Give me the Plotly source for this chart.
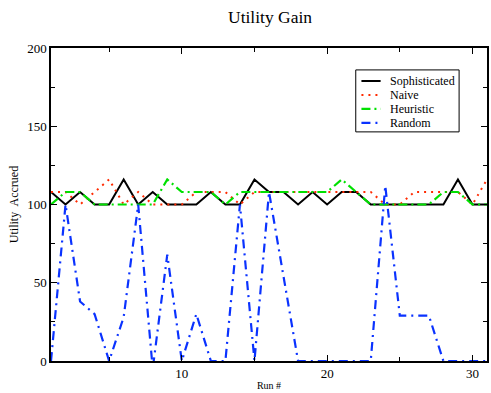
import plotly.graph_objects as go

runs = list(range(1, 32))
sophisticated = [108, 100, 108, 100, 100, 116, 100, 108, 100, 100, 100, 108, 100, 100, 116, 108,
                 108, 100, 108, 100, 108, 108, 100, 100, 100, 100, 100, 100, 116, 100, 100]
naive = [108, 108, 100, 108, 116, 100, 108, 100, 100, 100, 108, 108, 108, 100, 108, 108,
         108, 108, 108, 108, 108, 108, 108, 100, 100, 108, 108, 108, 108, 100, 116]
heuristic = [100, 108, 108, 100, 100, 100, 100, 100, 116, 108, 108, 108, 100, 108, 108, 108,
             108, 108, 108, 108, 116, 108, 100, 100, 100, 100, 100, 108, 108, 100, 100]
random_ = [0, 100, 38, 30, 0, 28, 100, -5, 68, 0, 30, 0, 0, 100, 0, 108,
           54, 0, 0, 0, 0, 0, 0, 112, 29, 29, 29, 0, 0, 0, 0]

series_names = ["Sophisticated", "Naive", "Heuristic", "Random"]
series_values = [sophisticated, naive, heuristic, random_]
series_styles = [
    dict(color="black", width=2),
    dict(color="#ff2a00", width=2, dash="2px,5px"),
    dict(color="#00e000", width=2.2, dash="9px,4px,2px,4px"),
    dict(color="#0a32ff", width=2.2, dash="9px,5px,2px,5px"),
]

FONT = "Liberation Serif"

fig = go.Figure()
for name, vals, style in zip(series_names, series_values, series_styles):
    fig.add_trace(go.Scatter(x=runs, y=vals, mode="lines", name=name, line=style,
                             showlegend=False))

# compact boxed legend (paper coordinates of the plot area)
leg_x0, leg_x1, leg_y0, leg_y1 = 0.699, 0.936, 0.732, 0.930
row_top, row_step = 0.8946, 0.0447
shapes = [dict(type="rect", xref="paper", yref="paper", x0=leg_x0, x1=leg_x1,
               y0=leg_y0, y1=leg_y1, line=dict(color="black", width=1),
               fillcolor="white", layer="above")]
annotations = []
for i, (name, style) in enumerate(zip(series_names, series_styles)):
    yy = row_top - i * row_step
    shapes.append(dict(type="line", xref="paper", yref="paper", x0=0.712, x1=0.756,
                       y0=yy, y1=yy, line=style, layer="above"))
    annotations.append(dict(xref="paper", yref="paper", x=0.772, y=yy, text=name,
                            showarrow=False, xanchor="left", yanchor="middle",
                            font=dict(family=FONT, size=12, color="black")))

axis_common = dict(showline=True, linecolor="black", linewidth=1.5, mirror="ticks",
                   ticks="inside", ticklen=6, tickwidth=1, tickcolor="black",
                   showgrid=False, zeroline=False,
                   tickfont=dict(family=FONT, size=13, color="black"))

fig.update_layout(
    width=491, height=393,
    margin=dict(l=51, r=2, t=48, b=32),
    paper_bgcolor="white", plot_bgcolor="white",
    title=dict(text="Utility Gain", x=0.55, xanchor="center", y=0.957, yanchor="middle",
               font=dict(family=FONT, size=17.5, color="black")),
    font=dict(family=FONT, color="black"),
    showlegend=False,
    shapes=shapes,
    annotations=annotations,
    xaxis=dict(range=[1, 31], tickvals=[10, 20, 30],
               minor=dict(tickvals=[5, 15, 25], ticks="inside", ticklen=4, tickcolor="black"),
               title=dict(text="Run #", font=dict(family=FONT, size=10), standoff=2),
               **axis_common),
    yaxis=dict(range=[0, 200], tickvals=[0, 50, 100, 150, 200],
               minor=dict(tickvals=[25, 75, 125, 175], ticks="inside", ticklen=4, tickcolor="black"),
               title=dict(text="Utility  Accrued", font=dict(family=FONT, size=12), standoff=6),
               **axis_common),
)

fig.write_html("out.html")
